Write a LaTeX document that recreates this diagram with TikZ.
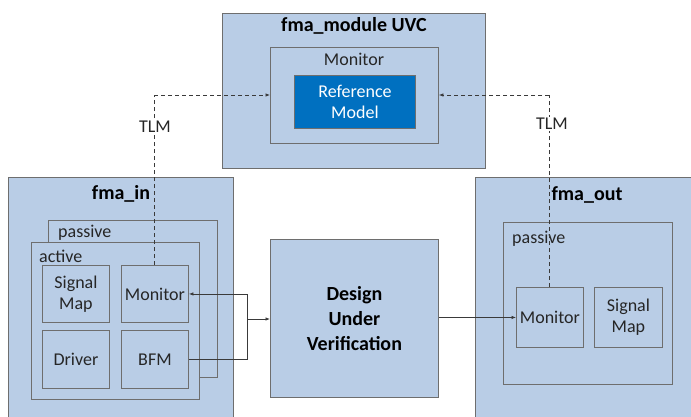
\documentclass[tikz,border=0pt]{standalone}
\usepackage{fontspec}
\setmainfont{Carlito}
\usetikzlibrary{arrows.meta}
\definecolor{boxfill}{HTML}{B9CDE6}
\definecolor{boxline}{HTML}{6E6E6E}
\definecolor{refblue}{HTML}{0070C0}
\definecolor{wirecol}{HTML}{3A3A3A}
\tikzset{
  blk/.style={draw=boxline, fill=boxfill, line width=0.9pt, inner sep=0pt, anchor=north west},
  lbl/.style={inner sep=0pt, font=\fontsize{18}{20}\selectfont, text=black!85},
  ttl/.style={inner sep=0pt, font=\fontsize{20}{22}\selectfont\bfseries, text=black},
  cell/.style={blk, align=center, font=\fontsize{18}{21}\selectfont, text=black!85},
  wire/.style={draw=wirecol, line width=0.7pt},
  tip/.style={-{Latex[length=4.5pt,width=3.5pt]}},
  tlmwire/.style={wire, dash pattern=on 4pt off 3pt},
}
\begin{document}
\begin{tikzpicture}[x=1pt,y=-1pt]
\useasboundingbox (0,0) rectangle (691,416);
\clip (0,0) rectangle (691,416);
\fill[white] (0,0) rectangle (691,416);

% top: module UVC with its monitor and reference model
\node[blk, minimum width=263, minimum height=155] (uvc) at (222,13) {};
\node[ttl] (uvcT) at (354,26) {fma\_module UVC};
\node[blk, minimum width=168, minimum height=96] (umon) at (270,47) {};
\node[lbl] (umonT) at (354,59) {Monitor};
\node[blk, fill=refblue, minimum width=121, minimum height=53, align=center,
      font=\fontsize{18}{21}\selectfont, text=white] (ref) at (294,75)
      {Reference\\Model};

% left agent: fma_in
\node[blk, minimum width=225, minimum height=260] (ain) at (8,177) {};
\node[ttl] (ainT) at (121,194) {fma\_in};
\node[blk, minimum width=169, minimum height=157] (inpas) at (48,220) {};
\node[lbl, anchor=west] (inpasT) at (58,233) {passive};
\node[blk, minimum width=168, minimum height=157] (inact) at (31,242) {};
\node[lbl, anchor=west] (inactT) at (39,256) {active};
\node[cell, minimum width=67, minimum height=57] (insig) at (42,265) {Signal\\Map};
\node[cell, minimum width=67, minimum height=57] (inmon) at (121,265) {Monitor};
\node[cell, minimum width=67, minimum height=58] (indrv) at (42,330) {Driver};
\node[cell, minimum width=67, minimum height=58] (inbfm) at (121,330) {BFM};

% design under verification
\node[blk, minimum width=168, minimum height=158, align=center,
      font=\fontsize{20}{25}\selectfont\bfseries] (duv) at (270,239)
      {Design\\Under\\Verification};

% right agent: fma_out
\node[blk, minimum width=230, minimum height=260] (aout) at (475,177) {};
\node[ttl] (aoutT) at (587,195) {fma\_out};
\node[blk, minimum width=169, minimum height=162] (outpas) at (503,222) {};
\node[lbl, anchor=west] (outpasT) at (512,239) {passive};
\node[cell, minimum width=67, minimum height=60] (outmon) at (516,287) {Monitor};
\node[cell, minimum width=68, minimum height=60] (outsig) at (594,287) {Signal\\Map};

% pin-level wiring between agents and the design
\coordinate (split) at (247,319);
\draw[wire] (inbfm.east) -- (inbfm.east -| split) -- (split);
\draw[wire, tip] (split) |- (inmon.east);
\draw[wire, tip] (split) -- (duv.west |- split);
\draw[wire, tip] (duv.east |- outmon.west) -- (outmon.west);

% TLM analysis paths into the reference model
\coordinate (tlmL) at (154,95);
\coordinate (tlmR) at (549,95);
\draw[tlmwire] (inmon.north -| tlmL) -- (tlmL);
\draw[tlmwire, tip] (tlmL) -- (umon.west |- tlmL);
\draw[tlmwire] (outmon.north -| tlmR) -- (tlmR);
\draw[tlmwire, tip] (tlmR) -- (umon.east |- tlmR);
\node[lbl, fill=white, inner sep=1.5pt] (tlmLT) at (155,127) {TLM};
\node[lbl, fill=white, inner sep=1.5pt] (tlmRT) at (552,124) {TLM};
\end{tikzpicture}
\end{document}
